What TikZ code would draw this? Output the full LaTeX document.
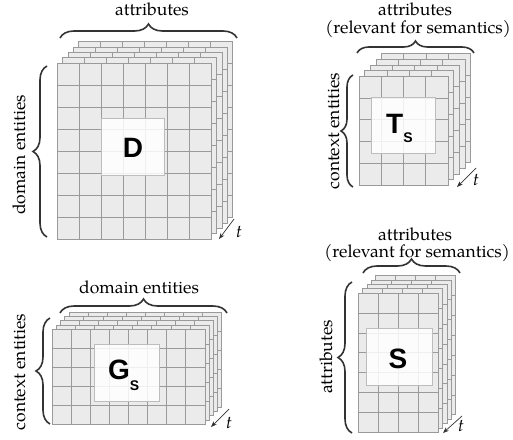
\documentclass[tikz,border=0pt]{standalone}
\usepackage{fontspec}
\usetikzlibrary{decorations.pathreplacing,arrows.meta}
\setmainfont{texgyrepagella}[Extension=.otf,UprightFont=*-regular,ItalicFont=*-italic,BoldFont=*-bold]
\newfontfamily\lettersans{Liberation Sans}
\definecolor{cellfill}{HTML}{EBEBEB}
\definecolor{cellline}{HTML}{9A9A9A}
\definecolor{bracecol}{HTML}{333333}
\definecolor{boxline}{HTML}{BDBDBD}

% A stack of five identical grids, the front one with its top-left corner at (#1,#2):
% #3 columns, #4 rows, cells #5 wide and #6 high, each layer shifted by #7 back and up.
\newcommand\cellstack[7]{%
  \foreach \k in {4,3,2,1,0}{%
    \begin{scope}[shift={({#1+\k*#7},{#2-\k*#7})}]
      \filldraw[layer] (0,0) rectangle ({#3*#5},{#4*#6});
      \foreach \i in {1,...,#3} \draw[cellgrid] ({\i*#5},0) -- ({\i*#5},{#4*#6});
      \foreach \j in {1,...,#4} \draw[cellgrid] (0,{\j*#6}) -- ({#3*#5},{\j*#6});
    \end{scope}}}

\begin{document}
\begin{tikzpicture}[x=1pt,y=-1pt,
  layer/.style={fill=cellfill,draw=cellline,line width=0.6pt},
  cellgrid/.style={draw=cellline,line width=0.6pt},
  whitebox/.style={fill=white,fill opacity=0.85,draw=boxline,line width=0.5pt},
  curly/.style={draw=bracecol,line width=1.6pt,decorate,decoration={brace,amplitude=#1}},
  curly/.default=13pt,
  label/.style={inner sep=0pt,font=\fontsize{17.5}{20}\selectfont,anchor=base},
  vlabel/.style={label,rotate=90},
  bigletter/.style={inner sep=0pt,anchor=base west,font=\lettersans\bfseries\fontsize{28}{30}\selectfont},
  timearrow/.style={draw=bracecol,line width=0.7pt,-{Stealth[length=6pt,width=4.5pt]}},
  tlabel/.style={inner sep=0pt,anchor=base,font=\fontsize{17.5}{20}\selectfont\itshape}]
\useasboundingbox (0,0) rectangle (513,439);

% ---------- D: domain entities x attributes ----------
\cellstack{57}{63}{7}{8}{22}{22}{5.4}
\filldraw[whitebox] (101,118) rectangle (164,175);
\node[bigletter,anchor=base] (dletter) at (133,157) {D};
\coordinate (dtl) at (60,38);  \coordinate (dtr) at (237,38);
\coordinate (dlb) at (47,237); \coordinate (dlt) at (47,66);
\draw[curly=14pt] (dtl) -- (dtr);
\draw[curly=14pt] (dlb) -- (dlt);
\node[label] (dattr) at (152,16) {attributes};
\node[vlabel] (ddom) at (25,155) {domain entities};
\coordinate (dta) at (234,219); \coordinate (dtb) at (219,239);
\draw[timearrow] (dta) -- (dtb);
\node[tlabel] (dt) at (239,237) {t};

% ---------- T_S: context entities x relevant attributes ----------
\cellstack{359}{76}{4}{5}{22.25}{21.8}{5.6}
\filldraw[whitebox] (371,97) rectangle (435,153);
\node[bigletter] (tletter) at (386,133) {T\raisebox{-9pt}{\fontsize{14}{14}\selectfont S}};
\coordinate (ttl) at (357,53);  \coordinate (ttr) at (474,53);
\coordinate (tlb) at (353,187); \coordinate (tlt) at (353,75);
\draw[curly=12pt] (ttl) -- (ttr);
\draw[curly=12pt] (tlb) -- (tlt);
\node[label] (tattr) at (415,16) {attributes};
\node[label] (trel) at (418,33) {(relevant for semantics)};
\node[vlabel] (tctx) at (339,131) {context entities};
\coordinate (tta) at (476,168); \coordinate (ttb) at (457,187);
\draw[timearrow] (tta) -- (ttb);
\node[tlabel] (tt) at (476,185) {t};

% ---------- G_S: context entities x domain entities ----------
\cellstack{52}{329}{8}{5}{19.1}{19}{4.2}
\filldraw[whitebox] (94,344) rectangle (159,401);
\node[bigletter] (gletter) at (108,379) {G\raisebox{-11pt}{\fontsize{14}{14}\selectfont S}};
\coordinate (gtl) at (60,313);  \coordinate (gtr) at (227,313);
\coordinate (glb) at (50,424);  \coordinate (glt) at (50,318);
\draw[curly=14pt] (gtl) -- (gtr);
\draw[curly=14pt] (glb) -- (glt);
\node[label] (gdom) at (139,293) {domain entities};
\node[vlabel] (gctx) at (25,372) {context entities};
\coordinate (gta) at (229,409); \coordinate (gtb) at (211,427);
\draw[timearrow] (gta) -- (gtb);
\node[tlabel] (gt) at (229,428) {t};

% ---------- S: relevant attributes x relevant attributes ----------
\cellstack{358}{293}{4}{7}{20}{19.9}{4.4}
\filldraw[whitebox] (366,328) rectangle (432,385);
\node[bigletter,anchor=base] (sletter) at (398,368) {S};
\coordinate (stl) at (363,273);  \coordinate (str) at (460,273);
\coordinate (slb) at (352,433);  \coordinate (slt) at (352,282);
\draw[curly=14pt] (stl) -- (str);
\draw[curly=14pt] (slb) -- (slt);
\node[label] (sattr) at (415,240) {attributes};
\node[label] (srel) at (417,257) {(relevant for semantics)};
\node[vlabel] (sleft) at (332,357) {attributes};
\coordinate (sta) at (462,416); \coordinate (stb) at (443,433);
\draw[timearrow] (sta) -- (stb);
\node[tlabel] (st) at (461,431) {t};
\end{tikzpicture}
\end{document}
